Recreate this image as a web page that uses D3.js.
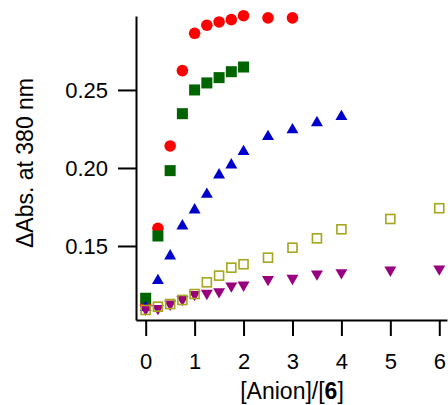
<!DOCTYPE html>
<html>
<head>
<meta charset="utf-8">
<script src="https://cdn.jsdelivr.net/npm/d3@7"></script>
<style>
  body { margin: 0; background: #fff; }
  text { font-family: "Liberation Sans", Arial, sans-serif; }
</style>
</head>
<body>
<div id="chart"></div>
<script>
// ratio values [Anion]/[6]
var xRed = [0, 0.25, 0.5, 0.75, 1, 1.25, 1.5, 1.75, 2, 2.5, 3];
var yRed = [0.112, 0.1613, 0.2141, 0.2624, 0.2863, 0.2915, 0.2936, 0.2951, 0.2976, 0.2962, 0.2962];

var xGreen = [0, 0.25, 0.5, 0.75, 1, 1.25, 1.5, 1.75, 2];
var yGreen = [0.1165, 0.1564, 0.1983, 0.2348, 0.25, 0.2545, 0.2579, 0.2617, 0.2647];

var xBlue = [0, 0.25, 0.5, 0.75, 1, 1.25, 1.5, 1.75, 2, 2.5, 3, 3.5, 4];
var yBlue = [0.1105, 0.1278, 0.1436, 0.1628, 0.1731, 0.1831, 0.1955, 0.2019, 0.2105, 0.2201, 0.2244, 0.229, 0.2329];

var xOlive = [0, 0.25, 0.5, 0.75, 1, 1.25, 1.5, 1.75, 2, 2.5, 3, 3.5, 4, 5, 6];
var yOlive = [0.109, 0.1111, 0.1128, 0.1154, 0.1192, 0.1267, 0.131, 0.1361, 0.1383, 0.1425, 0.1489, 0.1549, 0.1607, 0.1673, 0.1742];

var xPurple = [0, 0.25, 0.5, 0.75, 1, 1.25, 1.5, 1.75, 2, 2.5, 3, 3.5, 4, 5, 6];
var yPurple = [0.1095, 0.110, 0.1128, 0.1158, 0.119, 0.1197, 0.1207, 0.1244, 0.125, 0.1286, 0.1293, 0.1321, 0.1329, 0.1346, 0.1353];

var xTicks = [0, 1, 2, 3, 4, 5, 6];
var yTicks = [0.15, 0.20, 0.25];

var width = 448,
  height = 405,
  svg = d3
    .select("#chart")
    .append("svg")
    .attr("width", width)
    .attr("height", height);

var x = d3.scaleLinear().domain([-0.198, 6.158]).range([136, 447]);
var y = d3.scaleLinear().domain([0.10256, 0.2974]).range([320, 16]);

function zip(xs, ys) {
  return xs.map(function(v, i) { return { x: v, y: ys[i] }; });
}

// markers, back to front
svg.append("g").selectAll("circle")
  .data(zip(xRed, yRed))
  .enter().append("circle")
  .attr("cx", function(d) { return x(d.x); })
  .attr("cy", function(d) { return y(d.y); })
  .attr("r", 5.8)
  .attr("fill", "#ff0000");

svg.append("g").selectAll("rect")
  .data(zip(xGreen, yGreen))
  .enter().append("rect")
  .attr("x", function(d) { return x(d.x) - 5.5; })
  .attr("y", function(d) { return y(d.y) - 5.5; })
  .attr("width", 11)
  .attr("height", 11)
  .attr("fill", "#006400");

var triUp = d3.symbol().type(d3.symbolTriangle).size(62);

svg.append("g").selectAll("path")
  .data(zip(xBlue, yBlue))
  .enter().append("path")
  .attr("d", triUp)
  .attr("transform", function(d) { return "translate(" + x(d.x) + "," + y(d.y) + ")"; })
  .attr("fill", "#0000cc");

svg.append("g").selectAll("path")
  .data(zip(xPurple, yPurple))
  .enter().append("path")
  .attr("d", triUp)
  .attr("transform", function(d) { return "translate(" + x(d.x) + "," + y(d.y) + ") rotate(180)"; })
  .attr("fill", "#990080");

svg.append("g").selectAll("rect")
  .data(zip(xOlive, yOlive))
  .enter().append("rect")
  .attr("x", function(d) { return x(d.x) - 4.5; })
  .attr("y", function(d) { return y(d.y) - 4.5; })
  .attr("width", 9)
  .attr("height", 9)
  .attr("fill", "none")
  .attr("stroke", "#a6a61e")
  .attr("stroke-width", 1.6);

// axes
var gx = svg.append("g")
  .attr("transform", "translate(0,320)")
  .call(d3.axisBottom(x).tickValues(xTicks).tickSize(16).tickSizeOuter(0).tickPadding(17).tickFormat(d3.format("d")));

var gy = svg.append("g")
  .attr("transform", "translate(136,0)")
  .call(d3.axisLeft(y).tickValues(yTicks).tickSize(18).tickSizeOuter(0).tickPadding(10).tickFormat(d3.format(".2f")));

[gx, gy].forEach(function(g) {
  g.selectAll("path, line").attr("stroke", "#000").attr("stroke-width", 2);
  g.selectAll("text").style("font-size", "22px").attr("fill", "#000")
    .style("font-family", '"Liberation Sans", Arial, sans-serif');
});

svg.append("text")
  .attr("x", 292)
  .attr("y", 399)
  .attr("text-anchor", "middle")
  .style("font-size", "23px")
  .html('[Anion]/[<tspan font-weight="bold">6</tspan>]');

svg.append("text")
  .attr("transform", "translate(33,163) rotate(-90)")
  .attr("text-anchor", "middle")
  .style("font-size", "23px")
  .text("\u0394Abs. at 380 nm");
</script>
</body>
</html>
